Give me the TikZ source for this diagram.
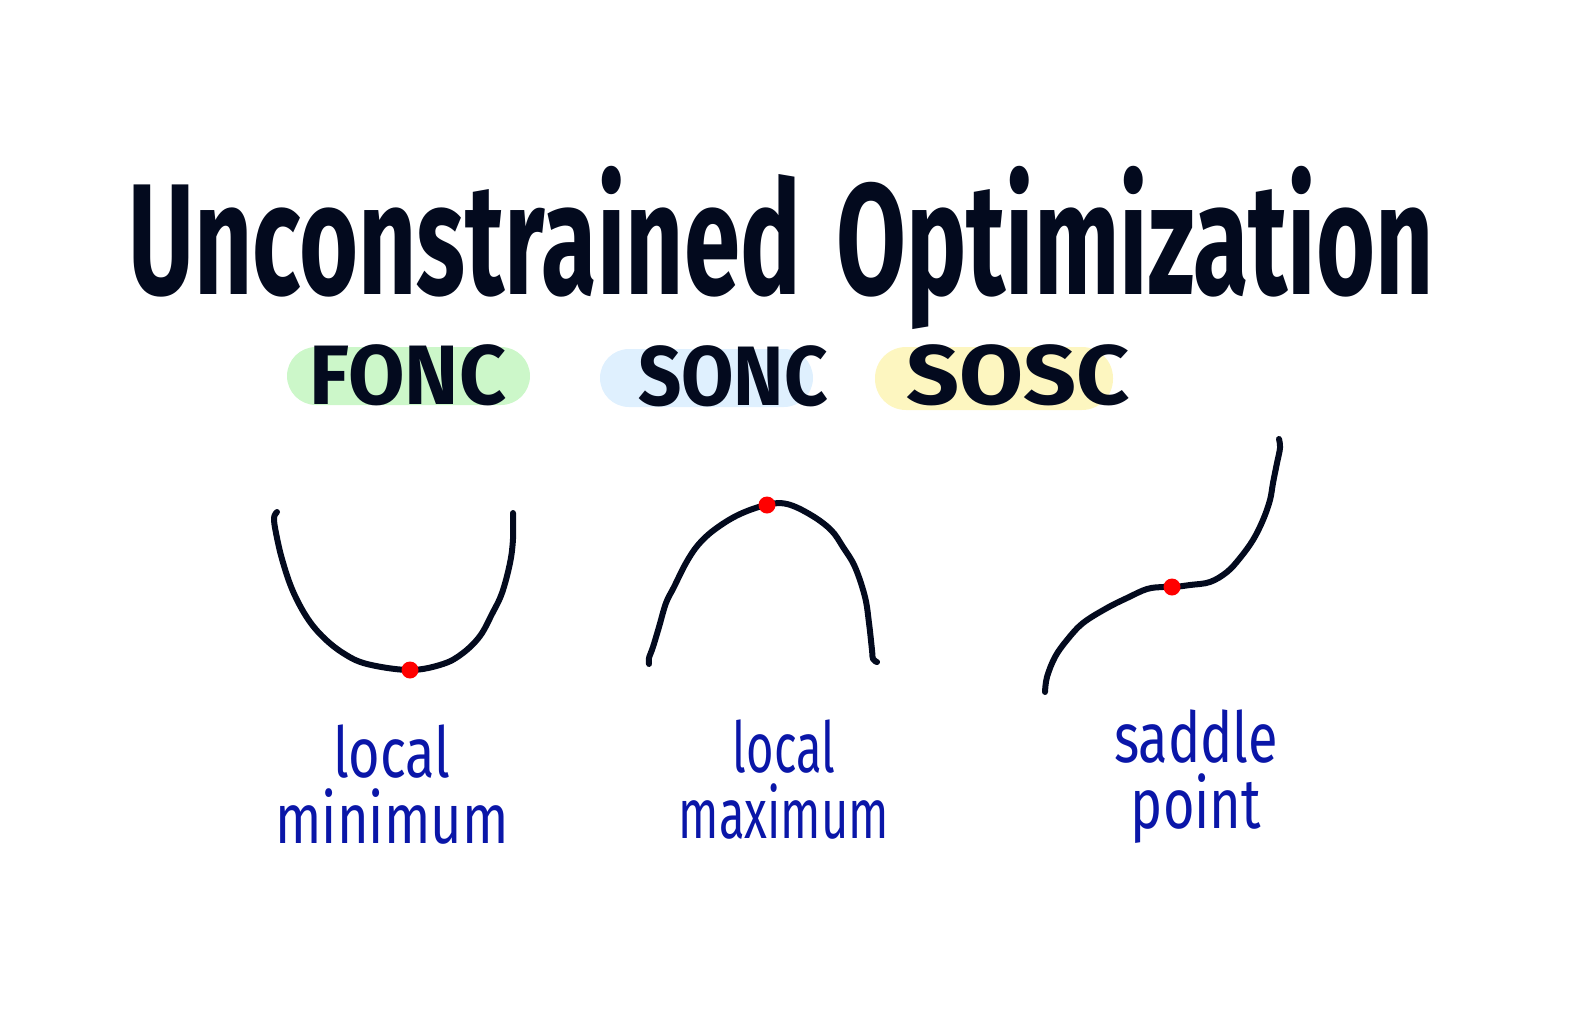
\documentclass[tikz,border=0pt]{standalone}
\usepackage{fontspec}
\setmainfont{Fira Sans}
\usepackage{tikz}

\definecolor{ink}{RGB}{3,10,30}
\definecolor{penblue}{RGB}{10,22,168}
\definecolor{foncgreen}{RGB}{204,247,201}
\definecolor{soncblue}{RGB}{223,240,254}
\definecolor{soscyellow}{RGB}{253,246,192}

\begin{document}
\begin{tikzpicture}[x=0.1mm, y=-0.1mm,
    curve/.style={ink, line width=0.6mm, line cap=round, line join=round},
    dot/.style={circle, fill=red, inner sep=0pt, minimum size=1.7mm},
    tag/.style={anchor=base, ink, font=\fontsize{24}{24}\bfseries\selectfont, transform shape},
    caption/.style={anchor=base, penblue, align=center, font=\fontsize{20}{18.5}\selectfont, xscale=0.77, transform shape}]
    \useasboundingbox (0,0) rectangle (1574,1012);

    \node[anchor=base, ink, font=\fontsize{45}{45}\bfseries\selectfont, xscale=0.64, transform shape]
        (title) at (781,294) {Unconstrained\hspace{0.35em}Optimization};

    % highlighted pills
    \fill[foncgreen, rounded corners=2.9mm] (287,347) rectangle (530,405);
    \fill[soncblue, rounded corners=2.9mm] (600,349) rectangle (813,407);
    \fill[soscyellow, rounded corners=3.1mm] (875,347) rectangle (1113,410);
    \node[tag, xscale=0.97] (fonc) at (408,404) {FONC};
    \node[tag, xscale=0.9] (sonc) at (733,405) {SONC};
    \node[tag, xscale=1.1] (sosc) at (1018,404) {SOSC};

    % local minimum
    \draw[curve] plot[smooth, tension=0.6] coordinates {(277,512) (274,518) (276,533) (282,559) (292,589) (306,616) (322,636) (343,653) (367,664) (410,670) (443,664) (463,653) (480,636) (492,614) (502,593) (510,563) (513,539) (513,513)};
    \node[dot] (minpt) at (410,670) {};

    % local maximum
    \draw[curve] plot[smooth, tension=0.6] coordinates {(649,664) (649,658) (653,647) (659,627) (666,603) (674,587) (686,563) (698,545) (714,530) (738,515) (766,505) (787,504) (811,515) (831,530) (843,547) (855,567) (865,597) (869,623) (872,650) (873,659) (877,662)};
    \node[dot] (maxpt) at (767,505) {};

    % saddle point
    \draw[curve] plot[smooth, tension=0.6] coordinates {(1045,692) (1047,677) (1055,657) (1067,640) (1083,623) (1107,608) (1127,598) (1147,589) (1163,587) (1174,587) (1190,585) (1210,582) (1227,572) (1240,558) (1253,540) (1263,520) (1270,500) (1273,483) (1277,463) (1280,448) (1279,439)};
    \node[dot] (saddlept) at (1172,587) {};

    \node[caption] (mincap) at (392,843) {local\\minimum};
    \node[caption, xscale=0.87] (maxcap) at (784,838) {local\\maximum};
    \node[caption] (saddlecap) at (1196,828) {saddle\\point};
\end{tikzpicture}
\end{document}
